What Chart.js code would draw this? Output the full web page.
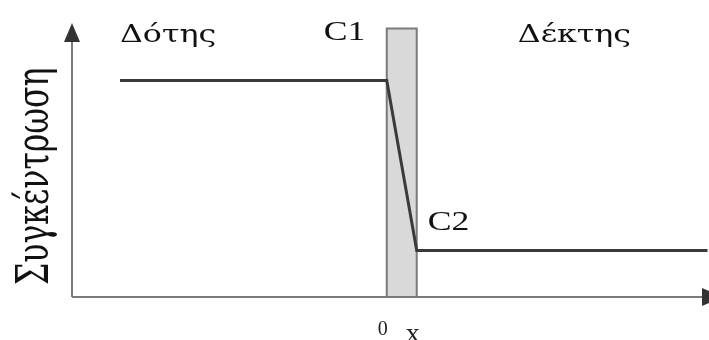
<!DOCTYPE html>
<html>
<head>
<meta charset="utf-8">
<script src="https://cdn.jsdelivr.net/npm/chart.js@4/dist/chart.umd.min.js"></script>
<style>
  html, body { margin: 0; padding: 0; background: #fff; }
  #wrap { width: 709px; height: 340px; }
</style>
</head>
<body>
<div id="wrap"><canvas id="profileChart"></canvas></div>
<script>
// concentration profile across the membrane
const profileX = [-8.9, 0, 1, 10.7];
const profileY = [7.9, 7.9, 1.7, 1.7];

// membrane slab between x = 0 and x = 1
const membraneX = [0, 0, 1, 1];
const membraneY = [0, 9.8, 9.8, 0];

const tickValues = [0, 1];
const tickLabels = ['0', 'x'];

const yTitle = 'Συγκέντρωση';
const notes = [
    { text: 'Δότης', x: -8.9, y: 9.31, greek: true },
    { text: 'C1', x: -2.1, y: 9.38 },
    { text: 'Δέκτης', x: 4.37, y: 9.31, greek: true },
    { text: 'C2', x: 1.37, y: 2.45 }
];

const SERIF = '"Liberation Serif", "DejaVu Serif", serif';
const GREEK = '"DejaVu Serif", serif';

function toPoints(xs, ys) {
    return xs.map((x, i) => ({ x: x, y: ys[i] }));
}

// axis lines with arrow heads, annotation text and the rotated y title
const decor = {
    id: 'decor',
    afterDatasetsDraw(chart) {
        const ctx = chart.ctx;
        const xs = chart.scales.x, ys = chart.scales.y;
        const left = chart.chartArea.left;
        const y0 = ys.getPixelForValue(0);
        const top = chart.chartArea.top;

        ctx.save();
        ctx.strokeStyle = '#7a7a7a';
        ctx.lineWidth = 2;
        ctx.beginPath();
        ctx.moveTo(left, y0);
        ctx.lineTo(left, top + 18);
        ctx.moveTo(left, y0);
        ctx.lineTo(chart.width - 6, y0);
        ctx.stroke();

        ctx.fillStyle = '#333';
        ctx.beginPath();
        ctx.moveTo(left, top);
        ctx.lineTo(left - 8, top + 19);
        ctx.lineTo(left + 8, top + 19);
        ctx.closePath();
        ctx.fill();
        ctx.beginPath();
        ctx.moveTo(chart.width + 14, y0);
        ctx.lineTo(chart.width - 7, y0 - 9);
        ctx.lineTo(chart.width - 7, y0 + 9);
        ctx.closePath();
        ctx.fill();

        // the labels are set slightly wide
        ctx.fillStyle = '#111';
        ctx.textAlign = 'left';
        ctx.textBaseline = 'alphabetic';
        notes.forEach(n => {
            ctx.save();
            ctx.font = n.greek ? '24px ' + GREEK : '27px ' + SERIF;
            ctx.translate(xs.getPixelForValue(n.x), ys.getPixelForValue(n.y));
            ctx.scale(1.32, 1);
            ctx.fillText(n.text, 0, 0);
            ctx.restore();
        });

        ctx.font = '31.5px ' + GREEK;
        ctx.translate(left - 24, y0 - 12);
        ctx.scale(1.4, 1);
        ctx.rotate(-Math.PI / 2);
        ctx.fillText(yTitle, 0, 0);
        ctx.restore();
    }
};

const ctxEl = document.getElementById('profileChart');
const chart = new Chart(ctxEl, {
    type: 'scatter',
    data: {
        datasets: [
            {
                data: toPoints(profileX, profileY),
                showLine: true,
                borderColor: '#3a3a3a',
                borderWidth: 3,
                pointRadius: 0,
                fill: false
            },
            {
                data: toPoints(membraneX, membraneY),
                showLine: true,
                borderColor: '#7a7a7a',
                borderWidth: 2,
                backgroundColor: '#d9d9d9',
                pointRadius: 0,
                fill: 'origin'
            }
        ]
    },
    options: {
        responsive: true,
        maintainAspectRatio: false,
        animation: false,
        layout: { padding: { left: 72, top: 23, right: 0, bottom: 0 } },
        plugins: {
            legend: { display: false },
            tooltip: { enabled: false }
        },
        scales: {
            x: {
                type: 'linear',
                min: -10.5,
                max: 10.75,
                grid: { display: false, drawTicks: false },
                border: { display: false },
                afterBuildTicks: scale => { scale.ticks = tickValues.map(v => ({ value: v })); },
                afterFit: scale => { scale.height = 43; },
                ticks: {
                    autoSkip: false,
                    maxRotation: 0,
                    padding: 21,
                    labelOffset: -4,
                    color: '#222',
                    font: c => ({ family: SERIF, size: c.tick && c.tick.value === 0 ? 20 : 28 }),
                    callback: v => tickLabels[tickValues.indexOf(v)]
                }
            },
            y: {
                display: false,
                min: 0,
                max: 10
            }
        }
    },
    plugins: [decor]
});
</script>
</body>
</html>
